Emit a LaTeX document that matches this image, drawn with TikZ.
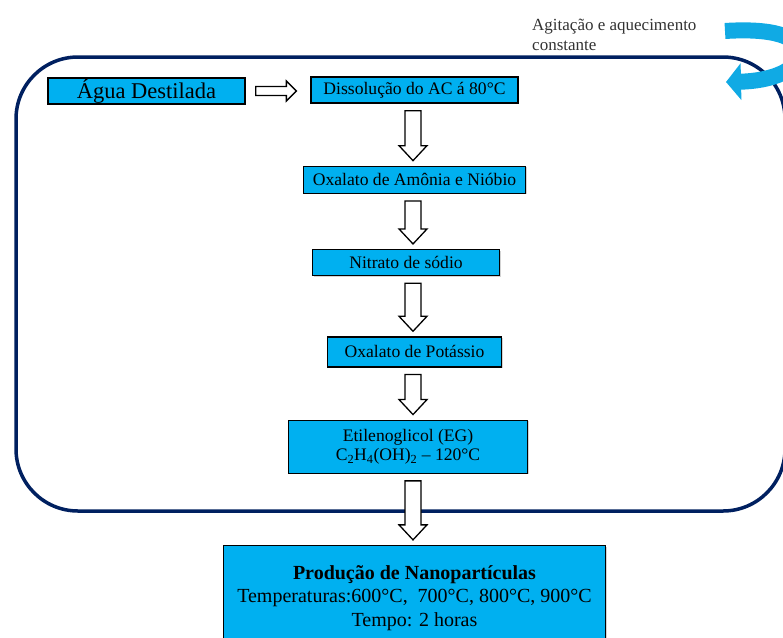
\documentclass[tikz,border=0pt]{standalone}
\usepackage{fontspec}
\setmainfont{Liberation Serif}
\usetikzlibrary{arrows.meta, calc, positioning, shadows}

\definecolor{boxblue}{RGB}{0,176,240}
\definecolor{framenavy}{RGB}{0,32,96}
\definecolor{swirlblue}{RGB}{16,170,228}

% hollow block arrows between two boxes
\newcommand{\blockdown}[2]{%
    \draw[blockarrow] let \p1=(#1.south -| axis), \p2=(#2.north -| axis) in
        (\x1-8pt,\y1-7pt) -- (\x1+8pt,\y1-7pt) -- (\x1+8pt,\y2+20pt) -- (\x1+14pt,\y2+20pt)
        -- (\x1,\y2+5pt) -- (\x1-14pt,\y2+20pt) -- (\x1-8pt,\y2+20pt) -- cycle;}
\newcommand{\blockright}[2]{%
    \draw[blockarrow] let \p1=(#1.east), \p2=(#2.west) in
        (\x1+10pt,\y1+4.5pt) -- (\x2-24pt,\y1+4.5pt) -- (\x2-24pt,\y1+10pt) -- (\x2-14pt,\y1)
        -- (\x2-24pt,\y1-10pt) -- (\x2-24pt,\y1-4.5pt) -- (\x1+10pt,\y1-4.5pt) -- cycle;}

\begin{document}
\begin{tikzpicture}[
    x=1pt,
    y=-1pt,
    stepbox/.style={draw=black, line width=1.3pt, fill=boxblue, inner sep=0pt, align=center,
        font=\fontsize{17.6}{19.5}\selectfont,
        drop shadow={shadow xshift=1pt, shadow yshift=-1pt, opacity=0.35}},
    blockarrow/.style={draw=black, line width=1.3pt, fill=white, line join=miter},
    frame/.style={draw=framenavy, line width=3.5pt, rounded corners=62pt},
    swirl/.style={draw=swirlblue, line width=16pt, -{Triangle[length=15pt, width=36pt]}},
    note/.style={inner sep=0pt, anchor=base west, text=black!80, font=\fontsize{17}{20}\selectfont}]

    \useasboundingbox (0,0) rectangle (783,637);
    \clip (0,0) rectangle (783,637);

    \draw[frame] (16,57) rectangle (785,511);
    \draw[swirl] (725,31) .. controls (772,28) and (799,36) .. (799,53)
                          .. controls (799,70) and (772,81) .. (726,82);
    \node[note] (agit)  at (532,30) {Agitação e aquecimento};
    \node[note] (const) at (532,50) {constante};

    \coordinate (axis) at (413,0);

    \node[stepbox, minimum width=197pt, minimum height=26pt, font=\fontsize{22.5}{24}\selectfont]
                                                        (agua)  at (146.5,91)   {Água Destilada};
    \node[stepbox, minimum width=207pt, minimum height=26pt] (diss)  at (414.5,90)   {Dissolução do AC á 80°C};
    \node[stepbox, minimum width=222pt, minimum height=27pt] (oxam)  [below=62pt of diss] {Oxalato de Amônia e Nióbio};
    \node[stepbox, minimum width=187pt, minimum height=26pt] (nitr)  [below=55pt of oxam, xshift=-8.5pt] {Nitrato de sódio};
    \node[stepbox, minimum width=174pt, minimum height=30pt] (potas) [below=60pt of nitr, xshift=8.5pt] {Oxalato de Potássio};
    \node[stepbox, minimum width=239pt, minimum height=53pt] (etil)  [below=52pt of potas, xshift=-6.5pt]
        {Etilenoglicol (EG)\\C\textsubscript{2}H\textsubscript{4}(OH)\textsubscript{2} – 120°C};
    \node[stepbox, minimum width=382pt, minimum height=105pt, font=\fontsize{20}{23.5}\selectfont]
                                                        (prod)  [below=71pt of etil, xshift=6.5pt]
        {\textbf{Produção de Nanopartículas}\\Temperaturas:600°C,\ \ 700°C, 800°C, 900°C\\Tempo: 2 horas};

    \blockright{agua}{diss}
    \blockdown{diss}{oxam}
    \blockdown{oxam}{nitr}
    \blockdown{nitr}{potas}
    \blockdown{potas}{etil}
    \blockdown{etil}{prod}
\end{tikzpicture}
\end{document}
